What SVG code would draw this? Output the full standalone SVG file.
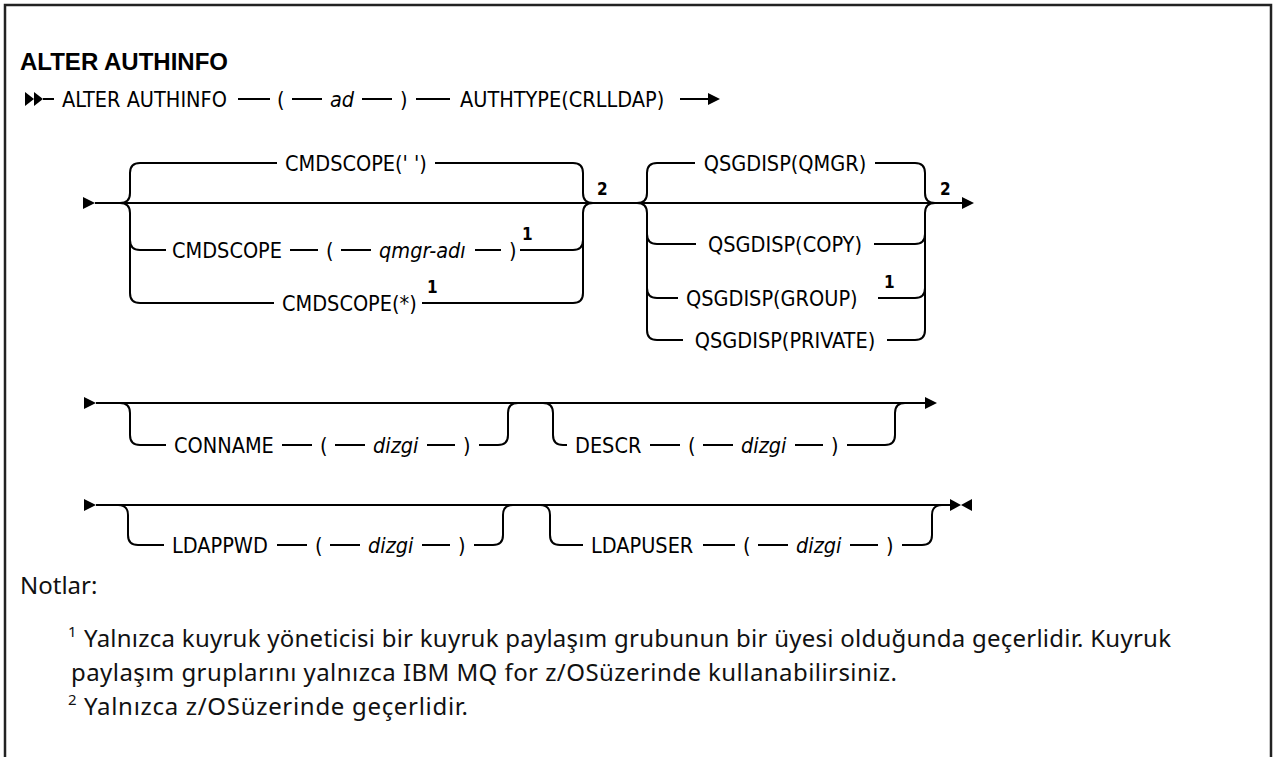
<svg xmlns="http://www.w3.org/2000/svg" width="1276" height="757" viewBox="0 0 1276 757">
<style>
.t{font-family:"DejaVu Sans Condensed","DejaVu Sans","Liberation Sans",sans-serif;font-stretch:condensed;font-size:21.5px;fill:#000}
.v{font-style:italic}
.s{font-family:"DejaVu Sans Condensed","DejaVu Sans","Liberation Sans",sans-serif;font-stretch:condensed;font-size:17px;font-weight:bold;fill:#000}
.ttl{font-family:"Liberation Sans",Arial,sans-serif;font-size:24px;font-weight:bold;fill:#000}
.n{font-family:"Noto Sans","Liberation Sans",sans-serif;font-size:24px;fill:#111}
.ns{font-family:"Noto Sans","Liberation Sans",sans-serif;font-size:15px;fill:#111}
.ln{stroke:#000;stroke-width:2;fill:none}
.ah{fill:#000}
</style>
<rect width="1276" height="757" fill="#fff"/>
<path d="M5,757 L5,5 L1271,5 L1271,757" fill="none" stroke="#222" stroke-width="2.5"/>
<g id="title"><text class="ttl" x="20" y="70">ALTER AUTHINFO</text></g>

<g id="connectors">
<polygon class="ah" points="25,92 34,99 25,106"/><polygon class="ah" points="34,92 43,99 34,106"/>
<path class="ln" d="M43,99H54 M238,99H270 M292,99H322 M362,99H392 M416,99H450 M680,99H708"/>
<polygon class="ah" points="708,93 720,99 708,105"/>
<polygon class="ah" points="83,197 95,203 83,209"/>
<path class="ln" d="M95,203H962"/>
<polygon class="ah" points="962,197 974,203 962,209"/>
<path class="ln" d="M120,203 Q130,203 130,193 L130,173 Q130,163 140,163 M120,203 Q130,203 130,213 L130,293 Q130,303 140,303 M130,240 Q130,250 140,250"/>
<path class="ln" d="M573,163 Q583,163 583,173 L583,193 Q583,203 593,203 M573,303 Q583,303 583,293 L583,213 Q583,203 593,203 M573,250 Q583,250 583,240"/>
<path class="ln" d="M140,163H277 M435,163H573"/>
<path class="ln" d="M140,250H166 M290,250H318 M341,250H371 M475,250H501 M520,250H573"/>
<path class="ln" d="M140,303H274 M422,303H573"/>
<path class="ln" d="M637,203 Q647,203 647,193 L647,173 Q647,163 657,163 M637,203 Q647,203 647,213 L647,330 Q647,340 657,340 M647,234 Q647,244 657,244 M647,288 Q647,298 657,298"/>
<path class="ln" d="M915,163 Q925,163 925,173 L925,193 Q925,203 935,203 M915,340 Q925,340 925,330 L925,213 Q925,203 935,203 M915,244 Q925,244 925,234 M915,298 Q925,298 925,288"/>
<path class="ln" d="M657,163H695 M875,163H915 M657,244H696 M874,244H915 M657,298H678 M878,298H915 M657,340H683 M887,340H915"/>
<polygon class="ah" points="84,397 96,403 84,409"/>
<path class="ln" d="M96,403H925"/>
<polygon class="ah" points="925,397 937,403 925,409"/>
<path class="ln" d="M120,403 Q130,403 130,413 L130,435 Q130,445 140,445 L166,445 M282,445H312 M335,445H365 M427,445H455 M479,445 L498,445 Q508,445 508,435 L508,413 Q508,403 518,403"/>
<path class="ln" d="M543,403 Q553,403 553,413 L553,435 Q553,445 563,445 L567,445 M650,445H680 M703,445H733 M795,445H823 M847,445 L885,445 Q895,445 895,435 L895,413 Q895,403 905,403"/>
<polygon class="ah" points="84,499 96,505 84,511"/>
<path class="ln" d="M96,505H950"/>
<polygon class="ah" points="950,499 961,505 950,511"/><polygon class="ah" points="972,499 961,505 972,511"/>
<path class="ln" d="M118,505 Q128,505 128,515 L128,535 Q128,545 138,545 L164,545 M277,545H307 M330,545H360 M422,545H450 M474,545 L493,545 Q503,545 503,535 L503,515 Q503,505 513,505"/>
<path class="ln" d="M540,505 Q550,505 550,515 L550,535 Q550,545 560,545 L583,545 M703,545H735 M758,545H788 M850,545H878 M902,545 L922,545 Q932,545 932,535 L932,515 Q932,505 942,505"/>
</g>

<g id="n-alter"><text class="t" x="62" y="107">ALTER AUTHINFO</text></g>
<g id="n-ad"><text class="t" x="277" y="107">(</text><text class="t v" x="330" y="107">ad</text><text class="t" x="400" y="107">)</text></g>
<g id="n-authtype"><text class="t" x="460" y="107">AUTHTYPE(CRLLDAP)</text></g>

<g id="n-cmdscope-blank"><text class="t" x="356" y="171" text-anchor="middle">CMDSCOPE(' ')</text></g>
<g id="n-cmdscope-qmgr"><text class="t" x="172" y="258">CMDSCOPE</text><text class="t" x="326" y="258">(</text><text class="t v" x="379" y="258">qmgr-adı</text><text class="t" x="509" y="258">)</text><text class="s" x="522" y="240">1</text></g>
<g id="n-cmdscope-star"><text class="t" x="282" y="311">CMDSCOPE(*)</text><text class="s" x="427" y="293">1</text></g>
<g id="n-note2a"><text class="s" x="597" y="195">2</text></g>

<g id="n-qsg-qmgr"><text class="t" x="785" y="171" text-anchor="middle">QSGDISP(QMGR)</text></g>
<g id="n-qsg-copy"><text class="t" x="785" y="252" text-anchor="middle">QSGDISP(COPY)</text></g>
<g id="n-qsg-group"><text class="t" x="686" y="306">QSGDISP(GROUP)</text><text class="s" x="884" y="288">1</text></g>
<g id="n-qsg-private"><text class="t" x="785" y="348" text-anchor="middle">QSGDISP(PRIVATE)</text></g>
<g id="n-note2b"><text class="s" x="940" y="195">2</text></g>

<g id="n-conname"><text class="t" x="174" y="453">CONNAME</text><text class="t" x="320" y="453">(</text><text class="t v" x="373" y="453">dizgi</text><text class="t" x="463" y="453">)</text></g>
<g id="n-descr"><text class="t" x="575" y="453">DESCR</text><text class="t" x="688" y="453">(</text><text class="t v" x="741" y="453">dizgi</text><text class="t" x="831" y="453">)</text></g>

<g id="n-ldappwd"><text class="t" x="172" y="553">LDAPPWD</text><text class="t" x="315" y="553">(</text><text class="t v" x="368" y="553">dizgi</text><text class="t" x="458" y="553">)</text></g>
<g id="n-ldapuser"><text class="t" x="591" y="553">LDAPUSER</text><text class="t" x="743" y="553">(</text><text class="t v" x="796" y="553">dizgi</text><text class="t" x="886" y="553">)</text></g>

<g id="notes">
<text class="n" x="20" y="594">Notlar:</text>
<text class="ns" x="68" y="637">1</text>
<text class="n" x="84" y="647" textLength="1087">Yalnızca kuyruk yöneticisi bir kuyruk paylaşım grubunun bir üyesi olduğunda geçerlidir. Kuyruk</text>
<text class="n" x="71" y="681" textLength="826">paylaşım gruplarını yalnızca IBM MQ for z/OSüzerinde kullanabilirsiniz.</text>
<text class="ns" x="68" y="705">2</text>
<text class="n" x="84" y="715" textLength="384">Yalnızca z/OSüzerinde geçerlidir.</text>
</g>
</svg>
